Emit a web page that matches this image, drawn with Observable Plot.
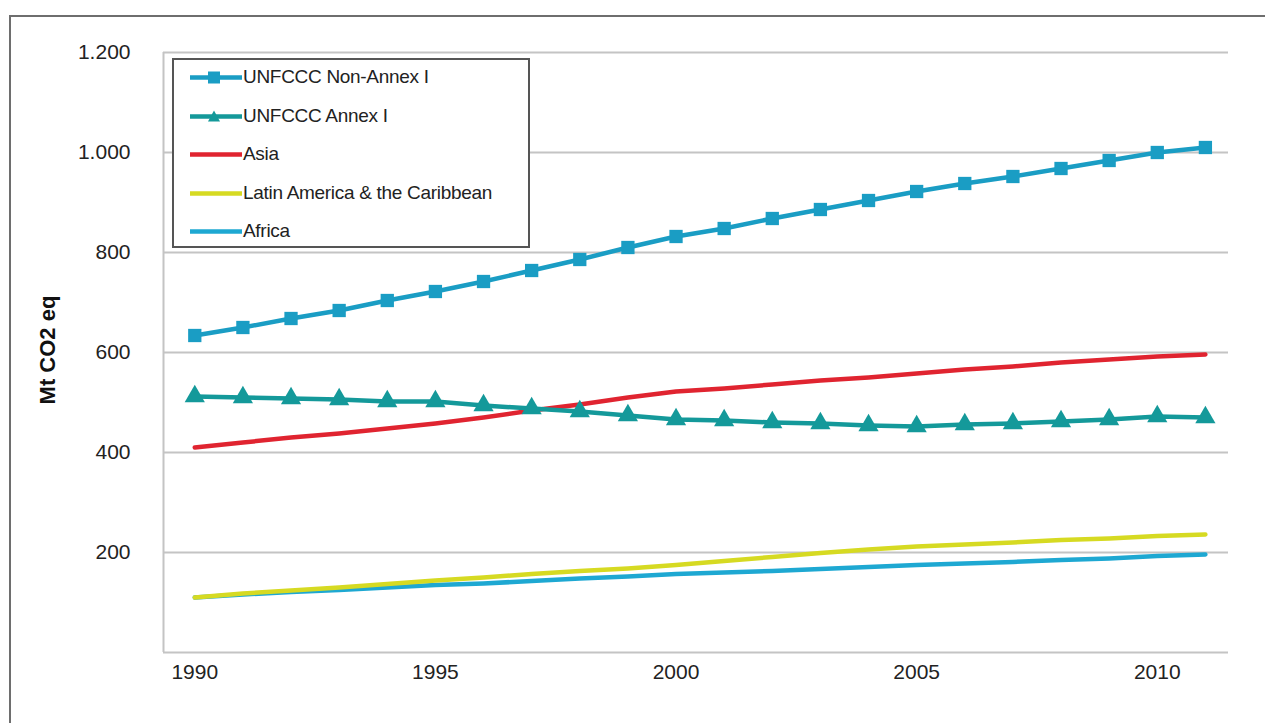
<!DOCTYPE html>
<html>
<head>
<meta charset="utf-8">
<script src="https://cdn.jsdelivr.net/npm/d3@7"></script>
<script src="https://cdn.jsdelivr.net/npm/@observablehq/plot@0.6"></script>
<style>
  body { margin: 0; background: #fff; font-family: "Liberation Sans", sans-serif; }
  #wrap { position: relative; width: 1265px; height: 723px; overflow: hidden; }
  #frame { position: absolute; left: 9px; top: 15px; width: 1300px; height: 800px; border: 2px solid #6e6e6e; box-sizing: border-box; }
  #legend { position: absolute; left: 172px; top: 58px; width: 358px; height: 190px; border: 2px solid #555; background: #fff; box-sizing: border-box; }
  .row { position: absolute; left: 14px; height: 24px; display: flex; align-items: center; font-size: 19px; color: #222; letter-spacing: -0.3px; }
  .row svg { margin-right: 1px; }
  #ylab { position: absolute; left: 48px; top: 350px; transform: translate(-50%, -50%) rotate(-90deg); font-weight: bold; font-size: 22px; font-family: "Liberation Sans", sans-serif; white-space: nowrap; color: #111; }
</style>
</head>
<body>
<div id="wrap">
  <div id="frame"></div>
  <div id="chart"></div>
  <div id="ylab">Mt CO2 eq</div>
  <div id="legend"></div>
</div>
<script>
const years = d3.range(1990, 2012);
const nonAnnex = [634, 650, 668, 684, 704, 722, 742, 764, 786, 810, 832, 848, 868, 886, 904, 922, 938, 952, 968, 984, 1000, 1010];
const annex    = [512, 510, 508, 506, 502, 502, 494, 488, 482, 474, 466, 464, 460, 458, 454, 452, 456, 458, 462, 466, 472, 470];
const asia     = [410, 420, 430, 438, 448, 458, 470, 484, 496, 510, 522, 528, 536, 544, 550, 558, 566, 572, 580, 586, 592, 596];
const latam    = [110, 118, 124, 130, 137, 144, 150, 157, 163, 168, 175, 183, 191, 199, 206, 212, 216, 220, 225, 228, 233, 236];
const africa   = [110, 116, 121, 125, 130, 135, 138, 143, 148, 152, 157, 160, 163, 167, 171, 175, 178, 181, 185, 188, 193, 196];
const seriesNames = ["UNFCCC Non-Annex I", "UNFCCC Annex I", "Asia", "Latin America & the Caribbean", "Africa"];
const seriesValues = [nonAnnex, annex, asia, latam, africa];
const colors = ["#1a9dc4", "#14999a", "#e02430", "#d6da22", "#1ea8d2"];
const symbols = ["square", "triangle", null, null, null];
const yTicks = [200, 400, 600, 800, 1000, 1200];
const xTicks = [1990, 1995, 2000, 2005, 2010];

const rows = [];
seriesNames.forEach((name, i) => {
  seriesValues[i].forEach((v, j) => rows.push({series: name, year: years[j], value: v, idx: i}));
});
const fmt = v => d3.format(",")(v).replace(/,/g, ".");

const marks = [
  Plot.gridY(yTicks, {stroke: "#c4c4c4", strokeOpacity: 1, strokeWidth: 2}),
  Plot.ruleX([1989.35], {stroke: "#c4c4c4", strokeWidth: 2}),
  Plot.ruleY([0], {stroke: "#c4c4c4", strokeWidth: 2}),
  Plot.axisY(yTicks, {tickSize: 0, tickPadding: 33, tickFormat: fmt, fontSize: 21, label: null, fill: "#222"}),
  Plot.axisX(xTicks, {tickSize: 0, tickPadding: 12, tickFormat: d => String(d), fontSize: 21, label: null, fill: "#222"})
];
for (let i = seriesNames.length - 1; i >= 0; i--) {
  const data = rows.filter(d => d.idx === i);
  marks.push(Plot.line(data, {x: "year", y: "value", stroke: colors[i], strokeWidth: 4.5}));
  if (symbols[i]) {
    marks.push(Plot.dot(data, {x: "year", y: "value", fill: colors[i], symbol: symbols[i], r: symbols[i] === "square" ? 7.5 : 7.5, stroke: "none"}));
  }
}

const chart = Plot.plot({
  width: 1265,
  height: 723,
  marginLeft: 163,
  marginRight: 37,
  marginTop: 52,
  marginBottom: 71,
  style: {background: "transparent", fontFamily: "'Liberation Sans', sans-serif"},
  x: {domain: [1989.35, 2011.48]},
  y: {domain: [0, 1200]},
  marks
});
document.getElementById("chart").appendChild(chart);

const legend = document.getElementById("legend");
const rowTops = [5, 44, 82, 121, 159];
seriesNames.forEach((name, i) => {
  const r = document.createElement("div");
  r.className = "row";
  r.style.top = rowTops[i] + "px";
  let sym = "";
  if (symbols[i] === "square") sym = `<rect x="20" y="1.5" width="12" height="12" fill="${colors[i]}"/>`;
  if (symbols[i] === "triangle") sym = `<polygon points="26,1.5 32,12.5 20,12.5" fill="${colors[i]}"/>`;
  r.innerHTML = `<svg width="54" height="15"><line x1="2" y1="7.5" x2="54" y2="7.5" stroke="${colors[i]}" stroke-width="4.5"/>${sym}</svg><span>${name}</span>`;
  legend.appendChild(r);
});
</script>
</body>
</html>
